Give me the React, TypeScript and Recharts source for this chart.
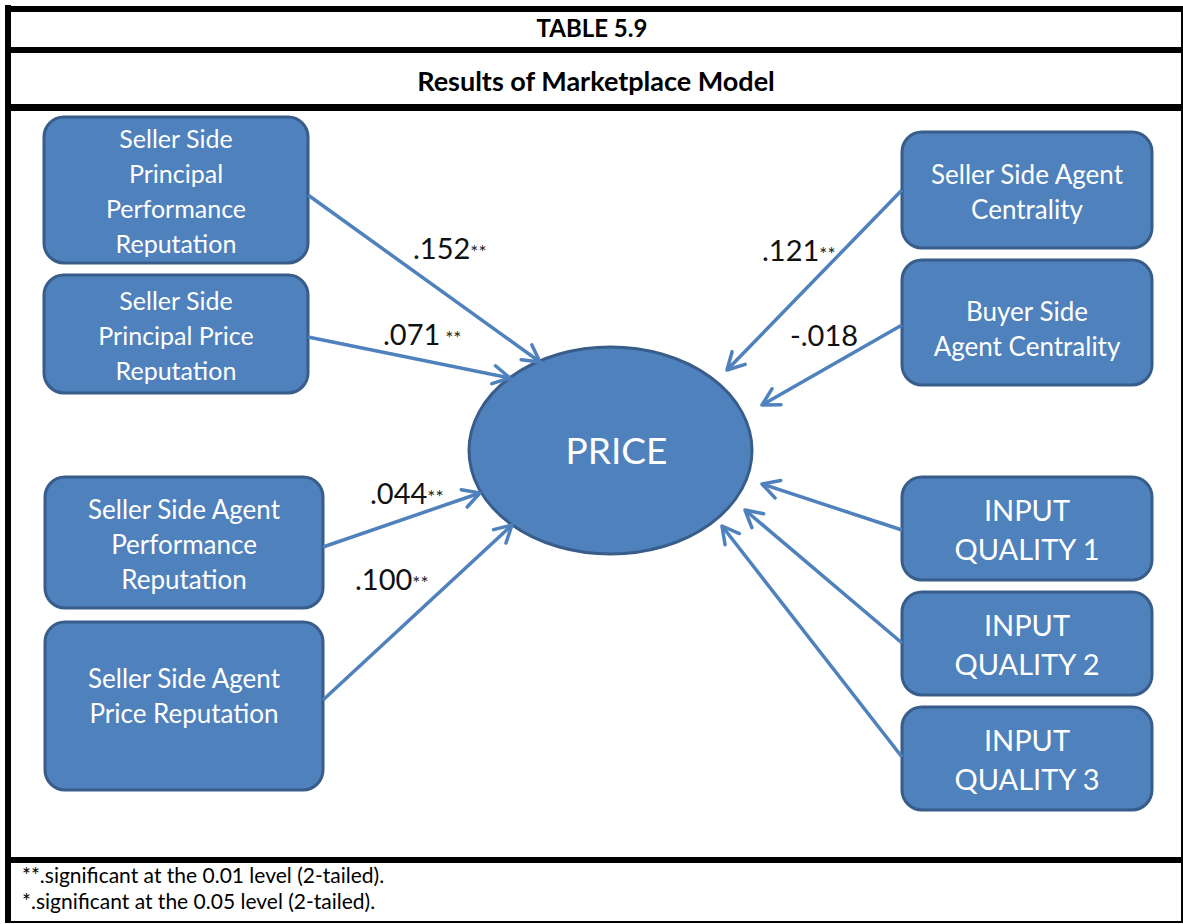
import React from "react";
import {
  ScatterChart,
  Scatter,
  XAxis,
  YAxis,
  ReferenceArea,
  ReferenceLine,
  ReferenceDot,
} from "recharts";

// ---------- data (text & values) ----------
const tableTitle = "TABLE 5.9";
const tableSubtitle = "Results of Marketplace Model";
const outcomeName = "PRICE";
const footnotes = [
  "**.significant at the 0.01 level (2-tailed).",
  "*.significant at the 0.05 level (2-tailed).",
];
const predictorLines: string[][] = [
  ["Seller Side", "Principal", "Performance", "Reputation"],
  ["Seller Side", "Principal Price", "Reputation"],
  ["Seller Side Agent", "Performance", "Reputation"],
  ["Seller Side Agent", "Price Reputation"],
  ["Seller Side Agent", "Centrality"],
  ["Buyer Side", "Agent Centrality"],
  ["INPUT", "QUALITY 1"],
  ["INPUT", "QUALITY 2"],
  ["INPUT", "QUALITY 3"],
];
const coefficients = [".152", ".071", ".044", ".100", ".121", "-.018"];
const coefficientStars = ["**", " **", "**", "**", "**", ""];

// ---------- layout (diagram coordinates) ----------
const W = 1183;
const H = 924;
const boxLayout = [
  { x0: 44, x1: 308, y0: 117, y1: 263, fs: 25, gap: 35, cy: 192 },
  { x0: 44, x1: 308, y0: 275, y1: 393, fs: 25, gap: 35, cy: 336 },
  { x0: 45, x1: 323, y0: 477, y1: 608, fs: 26, gap: 35, cy: 545 },
  { x0: 45, x1: 323, y0: 622, y1: 790, fs: 26, gap: 35, cy: 696 },
  { x0: 902, x1: 1152, y0: 132, y1: 248, fs: 26, gap: 35, cy: 192 },
  { x0: 902, x1: 1152, y0: 260, y1: 385, fs: 26, gap: 35, cy: 329 },
  { x0: 902, x1: 1152, y0: 477, y1: 580, fs: 29, gap: 39, cy: 530 },
  { x0: 902, x1: 1152, y0: 592, y1: 695, fs: 29, gap: 39, cy: 645 },
  { x0: 902, x1: 1152, y0: 707, y1: 810, fs: 29, gap: 39, cy: 760 },
];
const ellipseLayout = { x0: 469, x1: 752, y0: 347, y1: 554 };
const arrowLayout = [
  { x1: 308, y1: 195, x2: 540, y2: 362 },
  { x1: 308, y1: 337, x2: 510, y2: 378 },
  { x1: 323, y1: 547, x2: 480, y2: 493 },
  { x1: 323, y1: 700, x2: 512, y2: 525 },
  { x1: 902, y1: 190, x2: 727, y2: 370 },
  { x1: 902, y1: 325, x2: 762, y2: 405 },
  { x1: 902, y1: 530, x2: 762, y2: 484 },
  { x1: 902, y1: 643, x2: 745, y2: 510 },
  { x1: 902, y1: 757, x2: 722, y2: 526 },
];
const labelLayout = [
  { x: 413, y: 259 },
  { x: 383, y: 345 },
  { x: 370, y: 504 },
  { x: 355, y: 590 },
  { x: 762, y: 261 },
  { x: 790, y: 346 },
];
const borderBands = [
  { x0: 5, x1: 1183, y0: 6, y1: 12 },
  { x0: 5, x1: 11, y0: 5, y1: 923 },
  { x0: 1181, x1: 1183, y0: 6, y1: 923 },
  { x0: 5, x1: 1183, y0: 921, y1: 923 },
  { x0: 5, x1: 1183, y0: 47, y1: 53 },
  { x0: 5, x1: 1183, y0: 104, y1: 111 },
  { x0: 5, x1: 1183, y0: 857, y1: 863 },
];

const FONT = "Lato, 'Open Sans', sans-serif";
const BOX_FILL = "#4F81BD";
const BOX_STROKE = "#385D8A";
const ARROW = "#4F81BD";

const coefData = labelLayout.map((p, i) => ({
  x: p.x,
  y: p.y,
  value: coefficients[i],
  stars: coefficientStars[i],
}));

const bandShape = (props: any) => (
  <rect x={props.x} y={props.y} width={props.width} height={props.height} fill="#000" />
);

const makeBoxShape = (lines: string[], fs: number, gap: number, cyData: number, y0Data: number, y1Data: number) =>
  (props: any) => {
    const { x, y, width, height } = props;
    const k = height / (y1Data - y0Data);
    const cy = y + (cyData - y0Data) * k;
    const cx = x + width / 2;
    const top = cy - ((lines.length - 1) * gap) / 2;
    return (
      <g>
        <rect
          x={x}
          y={y}
          width={width}
          height={height}
          rx={20}
          ry={20}
          fill={BOX_FILL}
          stroke={BOX_STROKE}
          strokeWidth={3}
        />
        <text textAnchor="middle" fill="#fff" fontFamily={FONT} fontSize={fs}>
          {lines.map((l, i) => (
            <tspan key={i} x={cx} y={top + i * gap + fs * 0.35}>
              {l}
            </tspan>
          ))}
        </text>
      </g>
    );
  };

const ellipseShape = (props: any) => {
  const { x, y, width, height } = props;
  return (
    <g>
      <ellipse
        cx={x + width / 2}
        cy={y + height / 2}
        rx={width / 2}
        ry={height / 2}
        fill={BOX_FILL}
        stroke={BOX_STROKE}
        strokeWidth={3}
      />
      <text
        x={x + width / 2 + 6}
        y={y + height / 2 + 37 * 0.36}
        textAnchor="middle"
        fill="#fff"
        fontFamily={FONT}
        fontSize={37}
      >
        {outcomeName}
      </text>
    </g>
  );
};

const arrowShape = (props: any) => {
  const { x1, y1, x2, y2 } = props;
  const ang = Math.atan2(y2 - y1, x2 - x1);
  const L = 19;
  const a = 0.5;
  const p1x = x2 - L * Math.cos(ang - a);
  const p1y = y2 - L * Math.sin(ang - a);
  const p2x = x2 - L * Math.cos(ang + a);
  const p2y = y2 - L * Math.sin(ang + a);
  return (
    <g>
      <line x1={x1} y1={y1} x2={x2} y2={y2} stroke={ARROW} strokeWidth={3.5} />
      <polyline
        points={`${p1x},${p1y} ${x2},${y2} ${p2x},${p2y}`}
        fill="none"
        stroke={ARROW}
        strokeWidth={3.5}
        strokeLinecap="round"
        strokeLinejoin="round"
      />
    </g>
  );
};

const makeTextShape = (txt: string, opts: any) => (props: any) => (
  <text x={props.cx} y={props.cy} fontFamily={FONT} fill="#000" {...opts}>
    {txt}
  </text>
);

const coefShape = (props: any) => {
  const { cx, cy, payload } = props;
  return (
    <text x={cx} y={cy} fontFamily={FONT} fill="#111">
      <tspan fontSize={29}>{payload.value}</tspan>
      <tspan fontSize={19} fill="#222">{payload.stars}</tspan>
    </text>
  );
};

export default function App() {
  return (
    <div style={{ position: "absolute", left: 0, top: 0, width: W, height: H, background: "#fff" }}>
      <ScatterChart width={W} height={H} margin={{ top: 0, right: 0, bottom: 0, left: 0 }}>
        <XAxis type="number" dataKey="x" domain={[0, W]} hide allowDataOverflow />
        <YAxis type="number" dataKey="y" domain={[0, H]} reversed hide allowDataOverflow />
        {borderBands.map((b, i) => (
          <ReferenceArea
            key={"band" + i}
            x1={b.x0}
            x2={b.x1}
            y1={b.y0}
            y2={b.y1}
            shape={bandShape}
            ifOverflow="visible"
          />
        ))}
        {boxLayout.map((b, i) => (
          <ReferenceArea
            key={"box" + i}
            x1={b.x0}
            x2={b.x1}
            y1={b.y0}
            y2={b.y1}
            ifOverflow="visible"
            shape={makeBoxShape(predictorLines[i], b.fs, b.gap, b.cy, b.y0, b.y1)}
          />
        ))}
        <ReferenceArea
          x1={ellipseLayout.x0}
          x2={ellipseLayout.x1}
          y1={ellipseLayout.y0}
          y2={ellipseLayout.y1}
          ifOverflow="visible"
          shape={ellipseShape}
        />
        {arrowLayout.map((a, i) => (
          <ReferenceLine
            key={"arrow" + i}
            segment={[
              { x: a.x1, y: a.y1 },
              { x: a.x2, y: a.y2 },
            ]}
            ifOverflow="visible"
            shape={arrowShape}
          />
        ))}
        <ReferenceDot
          x={592}
          y={37}
          r={0}
          ifOverflow="visible"
          shape={makeTextShape(tableTitle, { textAnchor: "middle", fontWeight: 700, fontSize: 24 })}
        />
        <ReferenceDot
          x={596}
          y={91}
          r={0}
          ifOverflow="visible"
          shape={makeTextShape(tableSubtitle, { textAnchor: "middle", fontWeight: 700, fontSize: 27 })}
        />
        {footnotes.map((f, i) => (
          <ReferenceDot
            key={"fn" + i}
            x={22}
            y={883 + i * 26}
            r={0}
            ifOverflow="visible"
            shape={makeTextShape(f, { fontSize: 21 })}
          />
        ))}
        <Scatter data={coefData} isAnimationActive={false} shape={coefShape} />
      </ScatterChart>
    </div>
  );
}
